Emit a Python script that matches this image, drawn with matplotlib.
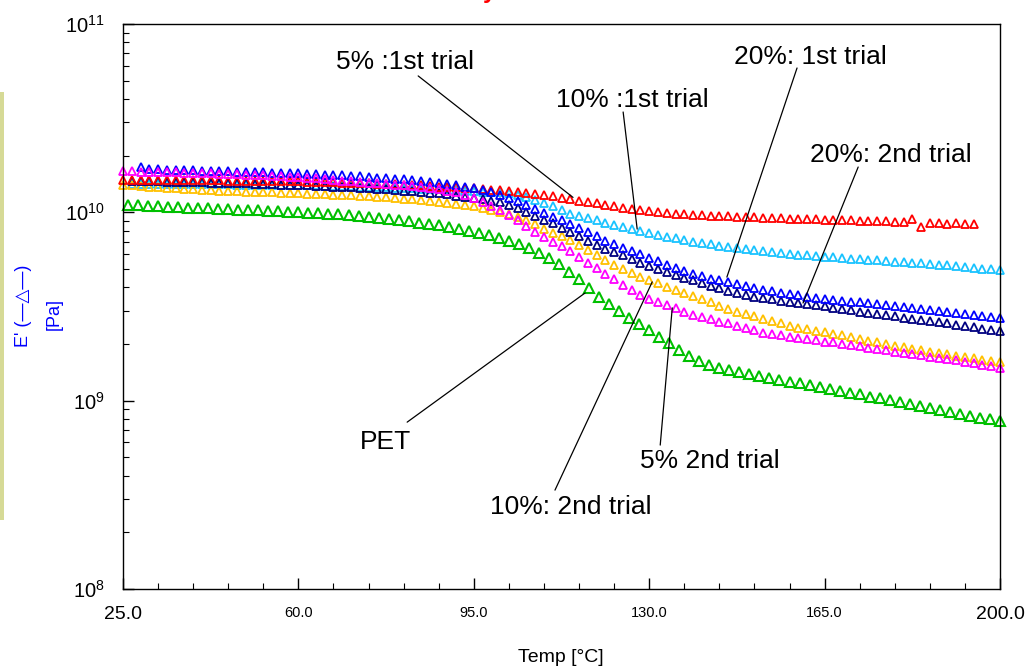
import numpy as np
import matplotlib
matplotlib.use("Agg")
import matplotlib.pyplot as plt
from matplotlib import font_manager
from matplotlib.patches import Rectangle
from matplotlib.ticker import FixedLocator, LogLocator, NullFormatter

# ---------------------------------------------------------------- data
# temperature sampling (degC)
temp_scan = np.arange(25.0, 200.01, 1.75)   # composite runs
temp_pet = np.arange(26.0, 200.01, 2.0)     # neat PET run

# storage modulus E' in GPa
e_5pct_1st = [
    14.8, 14.9, 14.9, 14.9, 14.9, 14.9, 14.85, 14.85, 14.8, 14.8,
    14.8, 14.8, 14.75, 14.75, 14.7, 14.7, 14.7, 14.65, 14.65, 14.6,
    14.6, 14.55, 14.5, 14.5, 14.45, 14.4, 14.35, 14.3, 14.25, 14.2,
    14.15, 14.1, 14.05, 13.95, 13.9, 13.8, 13.7, 13.65, 13.55, 13.45,
    13.4, 13.3, 13.2, 13.1, 12.95, 12.8, 12.65, 12.5, 12.3, 12.15,
    11.95, 11.75, 11.55, 11.35, 11.15, 10.95, 10.8, 10.6, 10.4, 10.25,
    10.15, 10.05, 9.95, 9.85, 9.8, 9.72, 9.67, 9.62, 9.57, 9.52,
    9.48, 9.44, 9.4, 9.35, 9.32, 9.28, 9.25, 9.22, 9.2, 9.17,
    9.14, 9.11, 9.08, 9.06, 9.03, 9.0, 8.98, 8.95, 8.92, 8.9,
    9.25, 8.35, 8.75, 8.8, 8.7, 8.75, 8.7, 8.65,
]
e_10pct_1st = [
    14.2, 14.2, 14.2, 14.2, 14.2, 14.15, 14.15, 14.15, 14.1, 14.1,
    14.1, 14.1, 14.05, 14.05, 14.05, 14.0, 14.0, 14.0, 13.95, 13.95,
    13.9, 13.9, 13.85, 13.85, 13.8, 13.75, 13.7, 13.65, 13.6, 13.55,
    13.5, 13.45, 13.4, 13.35, 13.3, 13.25, 13.2, 13.15, 13.05, 13.0,
    12.9, 12.85, 12.75, 12.6, 12.35, 12.0, 11.6, 11.2, 10.8, 10.3,
    9.85, 9.6, 9.35, 9.1, 8.82, 8.6, 8.38, 8.15, 7.95, 7.78,
    7.6, 7.42, 7.27, 7.12, 6.97, 6.85, 6.75, 6.65, 6.55, 6.45,
    6.38, 6.3, 6.22, 6.15, 6.08, 6.0, 5.95, 5.9, 5.85, 5.8,
    5.76, 5.72, 5.68, 5.64, 5.6, 5.55, 5.52, 5.48, 5.44, 5.4,
    5.36, 5.32, 5.28, 5.23, 5.18, 5.12, 5.08, 5.03, 4.98, 4.93,
]
e_20pct_1st = [
    17.4, 17.0, 16.9, 16.85, 16.8, 16.75, 16.7, 16.65, 16.6, 16.55,
    16.5, 16.45, 16.4, 16.35, 16.3, 16.25, 16.2, 16.15, 16.1, 16.0,
    15.95, 15.85, 15.8, 15.7, 15.6, 15.5, 15.4, 15.3, 15.2, 15.1,
    14.95, 14.8, 14.65, 14.5, 14.35, 14.15, 13.95, 13.7, 13.4, 13.1,
    12.75, 12.35, 11.95, 11.5, 11.0, 10.45, 9.95, 9.5, 9.05, 8.65,
    8.25, 7.85, 7.45, 7.05, 6.75, 6.5, 6.25, 6.0, 5.75, 5.5,
    5.25, 5.05, 4.88, 4.72, 4.58, 4.45, 4.35, 4.25, 4.15, 4.05,
    3.96, 3.88, 3.8, 3.73, 3.67, 3.62, 3.57, 3.52, 3.48, 3.44,
    3.4, 3.36, 3.33, 3.29, 3.25, 3.21, 3.18, 3.14, 3.1, 3.07,
    3.03, 3.0, 2.96, 2.92, 2.88, 2.85, 2.81, 2.78, 2.75,
]
e_20pct_2nd = [
    14.7, 14.65, 14.6, 14.6, 14.55, 14.5, 14.5, 14.45, 14.45, 14.4,
    14.35, 14.3, 14.3, 14.25, 14.2, 14.15, 14.1, 14.05, 14.0, 13.95,
    13.9, 13.8, 13.75, 13.7, 13.6, 13.55, 13.45, 13.4, 13.3, 13.25,
    13.15, 13.05, 12.95, 12.85, 12.7, 12.6, 12.45, 12.25, 12.1, 11.9,
    11.7, 11.5, 11.3, 10.95, 10.55, 10.05, 9.55, 9.1, 8.75, 8.3,
    7.9, 7.45, 7.05, 6.7, 6.4, 6.15, 5.9, 5.65, 5.4, 5.2,
    5.0, 4.8, 4.65, 4.5, 4.35, 4.2, 4.08, 3.95, 3.83, 3.72,
    3.63, 3.56, 3.5, 3.45, 3.4, 3.35, 3.31, 3.27, 3.22, 3.17,
    3.12, 3.07, 3.02, 2.97, 2.92, 2.88, 2.84, 2.8, 2.76, 2.73,
    2.69, 2.66, 2.62, 2.58, 2.53, 2.49, 2.45, 2.41, 2.37, 2.33,
]
e_10pct_2nd = [
    14.0, 13.9, 13.8, 13.7, 13.6, 13.5, 13.45, 13.35, 13.25, 13.15,
    13.1, 13.05, 13.0, 12.95, 12.9, 12.85, 12.8, 12.75, 12.7, 12.65,
    12.6, 12.55, 12.5, 12.45, 12.4, 12.35, 12.3, 12.2, 12.15, 12.05,
    12.0, 11.9, 11.8, 11.7, 11.6, 11.5, 11.35, 11.2, 11.05, 10.9,
    10.75, 10.55, 10.35, 10.1, 9.85, 9.5, 9.1, 8.65, 8.2, 7.8,
    7.45, 7.1, 6.7, 6.3, 5.9, 5.55, 5.25, 4.98, 4.75, 4.55,
    4.37, 4.2, 4.03, 3.88, 3.73, 3.6, 3.45, 3.33, 3.2, 3.08,
    2.97, 2.88, 2.8, 2.73, 2.66, 2.58, 2.5, 2.44, 2.39, 2.35,
    2.31, 2.27, 2.22, 2.17, 2.12, 2.08, 2.04, 2.0, 1.96, 1.93,
    1.89, 1.86, 1.82, 1.79, 1.76, 1.73, 1.7, 1.68, 1.65, 1.63,
    1.61,
]
e_5pct_2nd = [
    16.6, 16.5, 16.45, 16.4, 16.35, 16.3, 16.3, 16.25, 16.2, 16.15,
    16.1, 16.0, 15.95, 15.9, 15.85, 15.75, 15.7, 15.6, 15.5, 15.45,
    15.4, 15.25, 15.15, 15.0, 14.9, 14.75, 14.65, 14.55, 14.4, 14.3,
    14.15, 14.05, 13.95, 13.85, 13.7, 13.5, 13.3, 13.05, 12.75, 12.4,
    11.9, 11.4, 10.85, 10.3, 9.7, 9.1, 8.5, 7.9, 7.4, 7.0,
    6.6, 6.2, 5.8, 5.4, 5.05, 4.7, 4.4, 4.13, 3.88, 3.66,
    3.48, 3.35, 3.22, 3.1, 2.97, 2.86, 2.77, 2.7, 2.63, 2.57,
    2.5, 2.43, 2.36, 2.3, 2.26, 2.22, 2.19, 2.15, 2.12, 2.09,
    2.06, 2.04, 2.0, 1.97, 1.94, 1.91, 1.88, 1.85, 1.82, 1.8,
    1.77, 1.74, 1.71, 1.69, 1.66, 1.64, 1.61, 1.58, 1.55, 1.52,
    1.49,
]
e_pet = [
    10.9, 10.9, 10.8, 10.8, 10.7, 10.7, 10.6, 10.55, 10.5, 10.45,
    10.4, 10.35, 10.3, 10.25, 10.2, 10.15, 10.1, 10.05, 9.97, 9.9,
    9.82, 9.74, 9.65, 9.55, 9.45, 9.34, 9.22, 9.10, 8.96, 8.82,
    8.67, 8.52, 8.36, 8.18, 7.98, 7.77, 7.55, 7.31, 7.05, 6.78,
    6.45, 6.10, 5.71, 5.30, 4.85, 4.40, 3.95, 3.55, 3.25, 2.98,
    2.75, 2.55, 2.37, 2.19, 2.02, 1.86, 1.72, 1.62, 1.55, 1.50,
    1.46, 1.42, 1.38, 1.35, 1.32, 1.29, 1.26, 1.24, 1.21, 1.18,
    1.15, 1.13, 1.10, 1.08, 1.05, 1.03, 1.005, 0.984, 0.96, 0.94,
    0.915, 0.89, 0.869, 0.85, 0.83, 0.81, 0.795, 0.78,
]

x_ticks = [25.0, 60.0, 95.0, 130.0, 165.0, 200.0]
x_tick_labels = ["25.0", "60.0", "95.0", "130.0", "165.0", "200.0"]
y_ticks = [1e8, 1e9, 1e10, 1e11]

GPA = 1e9

# ---------------------------------------------------------------- fonts
def have_font(name):
    try:
        font_manager.findfont(name, fallback_to_default=False)
        return True
    except Exception:
        return False

SANS = "Liberation Sans" if have_font("Liberation Sans") else "DejaVu Sans"
NARROW = "Liberation Sans Narrow" if have_font("Liberation Sans Narrow") else SANS
plt.rcParams["font.family"] = [SANS, "DejaVu Sans"]
plt.rcParams["mathtext.fontset"] = "custom"
plt.rcParams["mathtext.rm"] = SANS

# ---------------------------------------------------------------- figure
fig = plt.figure(figsize=(10.30, 6.67), dpi=100)
ax = fig.add_axes([123 / 1030, 1 - 589 / 667, 877 / 1030, 565 / 667])

# order of drawing: later series sit on top
series = [
    (temp_scan[1:], e_10pct_1st, "#19C3FF", 6.0, 1.3),
    (temp_scan, e_10pct_2nd, "#FFC000", 6.0, 1.3),
    (temp_scan[1:], e_20pct_2nd, "#000080", 6.0, 1.3),
    (temp_scan[:len(e_5pct_1st)], e_5pct_1st, "#FF0000", 6.0, 1.3),
    (temp_scan[2:], e_20pct_1st, "#0000FF", 6.0, 1.3),
    (temp_scan, e_5pct_2nd, "#FF00FF", 6.0, 1.3),
    (temp_pet, e_pet, "#00C000", 7.6, 1.5),
]
for t, e, col, ms, mew in series:
    ax.plot(t, np.asarray(e) * GPA, linestyle="none", marker="^",
            markersize=ms, markerfacecolor="none", markeredgecolor=col,
            markeredgewidth=mew, clip_on=False)

ax.set_yscale("log")
ax.set_xlim(25, 200)
ax.set_ylim(1e8, 1e11)

# x ticks
ax.xaxis.set_major_locator(FixedLocator(x_ticks))
ax.set_xticklabels(x_tick_labels)
ax.xaxis.set_minor_locator(FixedLocator(np.arange(25, 200.1, 7.0)))
for lbl, txt in zip(ax.get_xticklabels(), x_tick_labels):
    lbl.set_family([NARROW, SANS])
    lbl.set_fontsize(14 if txt in ("25.0", "200.0") else 10.5)
ax.tick_params(axis="x", which="major", direction="in", length=8, width=1,
               pad=12, top=False)
ax.tick_params(axis="x", which="minor", direction="in", length=4, width=0.8,
               top=False)

# y ticks
ax.yaxis.set_major_locator(FixedLocator(y_ticks))
ax.yaxis.set_minor_locator(LogLocator(base=10, subs=np.arange(2, 10)))
ax.yaxis.set_minor_formatter(NullFormatter())
ax.tick_params(axis="y", which="major", direction="in", length=8, width=1,
               pad=13, labelsize=14.5, right=False)
ax.tick_params(axis="y", which="minor", direction="in", length=4, width=0.8,
               right=False)

for sp in ax.spines.values():
    sp.set_linewidth(1.0)
    sp.set_color("black")

# ---------------------------------------------------------------- labels
fig.text(561 / 1030, 1 - 657 / 667, "Temp [°C]", ha="center", va="center",
         fontsize=14, family=[NARROW, SANS])
fig.text(24 / 1030, 1 - 306 / 667, "E' (\u2014\u25B3\u2014)", rotation=90,
         ha="center", va="center", fontsize=13, color="#0000FF",
         family=[SANS, "DejaVu Sans"])
fig.text(54 / 1030, 1 - 314 / 667, "[Pa]", rotation=90, ha="center",
         va="center", fontsize=13, color="#0000FF")

# clipped red heading at the very top edge
fig.text(489 / 1030, 1 + 2 / 667, "y", ha="center", va="baseline",
         fontsize=17, fontweight="bold", color="#FF0000")

# yellowish margin strip on the left edge
fig.patches.append(Rectangle((0, 1 - 520 / 667), 4 / 1030, 428 / 667,
                             transform=fig.transFigure, facecolor="#D6DA96",
                             edgecolor="none"))

# ---------------------------------------------------------------- annotations
annotations = [
    # text, text position (T, E), leader start (T, E), leader end (T, E)
    ("5% :1st trial", (81.3, 6.28e10), (83.9, 5.30e10), (114.8, 1.20e10)),
    ("10% :1st trial", (126.6, 3.94e10), (124.8, 3.41e10), (127.6, 8.15e9)),
    ("20%: 1st trial", (162.1, 6.68e10), (159.5, 5.84e10), (145.5, 4.53e9)),
    ("20%: 2nd trial", (178.3, 2.01e10), (171.7, 1.74e10), (160.7, 3.30e9)),
    ("PET", (77.3, 6.03e8), (81.7, 7.69e8), (117.2, 3.73e9)),
    ("5% 2nd trial", (142.1, 4.78e8), (132.2, 5.81e8), (134.6, 3.11e9)),
    ("10%: 2nd trial", (114.4, 2.72e8), (111.2, 3.35e8), (130.6, 4.27e9)),
]
for text, pos, start, end in annotations:
    ax.text(pos[0], pos[1], text, ha="center", va="center", fontsize=19,
            color="black")
    ax.annotate("", xy=end, xytext=start,
                arrowprops=dict(arrowstyle="-", color="black", lw=0.9,
                                shrinkA=0, shrinkB=0))

fig.savefig("out.png", dpi=100)
